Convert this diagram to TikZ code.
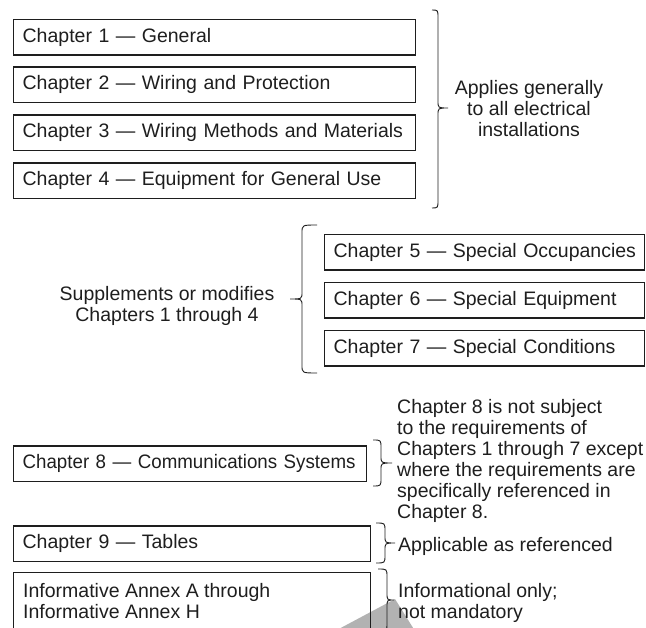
\documentclass[tikz,border=0pt]{standalone}
\usepackage{fontspec}
\setmainfont{Liberation Sans}
\definecolor{ink}{HTML}{1E1E1E}
\definecolor{pointer}{HTML}{B2B2B2}
\newcommand{\bracepath}[6]{%
  \draw[bracestyle] (#1,#4) .. controls (#2,#4) .. (#2,#4+8) -- (#2,#5-7)
    .. controls (#2,#5) .. (#3,#5) .. controls (#2,#5) .. (#2,#5+7)
    -- (#2,#6-8) .. controls (#2,#6) .. (#1,#6);}
\begin{document}
\begin{tikzpicture}[x=1pt,y=-1pt,
  every node/.style={font=\fontsize{19.5}{21}\selectfont, text=ink},
  chapbox/.style={draw=ink, line width=1.3pt, inner xsep=9pt, inner ysep=0pt,
    anchor=north west, align=left, minimum height=35.5pt},
  bracestyle/.style={draw=ink, line width=0.9pt},
  note/.style={inner sep=0pt}]
\useasboundingbox (0,0) rectangle (646,628);
\clip (0,0) rectangle (646,628);
% gray pointer behind
\fill[pointer] (335,631) -- (395,599) -- (415,631) -- cycle;
% top group
\node[chapbox, text width=384pt] (c1) at (13,19) {\mbox{Chapter 1 — General}};
\node[chapbox, text width=384pt] (c2) at (13,66.5) {\mbox{Chapter 2 — Wiring and Protection}};
\node[chapbox, text width=384pt] (c3) at (13,114.5) {\mbox{Chapter 3 — Wiring Methods and Materials}};
\node[chapbox, text width=384pt] (c4) at (13,162.5) {\mbox{Chapter 4 — Equipment for General Use}};
\bracepath{432}{438}{448}{10}{108}{208}
\node[note, align=center] (n1) at (529,109) {Applies generally\\to all electrical\\installations};
% middle group
\node[chapbox, text width=302pt] (c5) at (324,234) {\mbox{Chapter 5 — Special Occupancies}};
\node[chapbox, text width=302pt] (c6) at (324,282) {\mbox{Chapter 6 — Special Equipment}};
\node[chapbox, text width=302pt] (c7) at (324,330) {\mbox{Chapter 7 — Special Conditions}};
\bracepath{317}{302}{290}{225}{299}{373}
\node[note, align=center] (n2) at (167,306) {Supplements or modifies\\Chapters 1 through 4};
% bottom group
\node[chapbox, text width=335pt] (c8) at (13,445.5) {\mbox{\addfontfeature{FakeStretch=0.96}Chapter 8 — Communications Systems}};
\bracepath{373}{381}{392}{440}{463}{486}
\node[note, align=left, anchor=west] (n3) at (397,461) {Chapter 8 is not subject\\to the requirements of\\Chapters 1 through 7 except\\where the requirements are\\specifically referenced in\\Chapter 8.};
\node[chapbox, text width=339pt] (c9) at (13,525.5) {\mbox{Chapter 9 — Tables}};
\bracepath{376}{385}{395}{523}{543}{563}
\node[note, anchor=west] (n4) at (398,546) {Applicable as referenced};
\node[chapbox, text width=339pt, minimum height=70pt, anchor=north west] (c10) at (13,572) {};
\node[note, align=left, anchor=north west] (ax) at (23,583) {Informative Annex A through\\Informative Annex H};
\bracepath{378}{387}{394}{569}{600}{631}
\node[note, align=left, anchor=north west] (n5) at (398,583) {Informational only;\\not mandatory};
\end{tikzpicture}
\end{document}
